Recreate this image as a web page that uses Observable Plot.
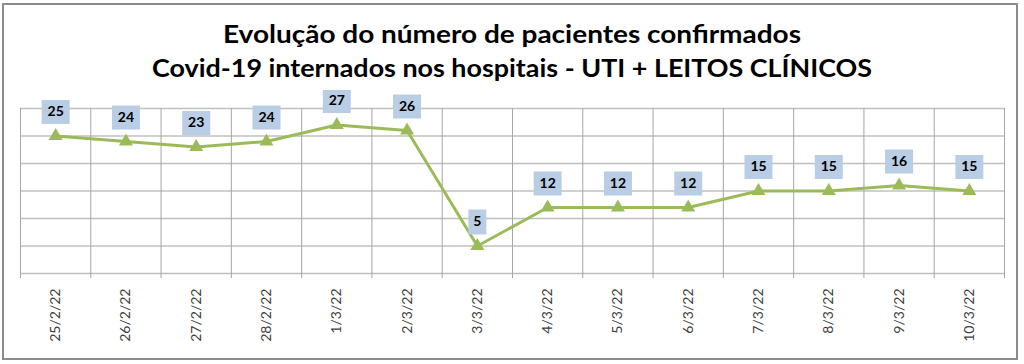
<!DOCTYPE html>
<html><head><meta charset="utf-8">
<script src="https://cdn.jsdelivr.net/npm/d3@7"></script>
<script src="https://cdn.jsdelivr.net/npm/@observablehq/plot@0.6"></script>
<style>
body{margin:0;background:#fff;}
#wrap{position:relative;width:1024px;height:364px;overflow:hidden;background:#fff;}
#border{position:absolute;left:2px;top:3px;width:1016px;height:357px;border:2px solid #8c8c8c;box-sizing:border-box;pointer-events:none;}
#title{position:absolute;left:0;top:0;}
#chart{position:absolute;left:0;top:90px;}
</style></head>
<body>
<div id="wrap">
  <svg id="title" width="1024" height="90" font-family="Lato, 'Open Sans', sans-serif" font-weight="bold" font-size="24" fill="#000">
    <text x="512" y="43" text-anchor="middle" textLength="578" lengthAdjust="spacingAndGlyphs">Evolução do número de pacientes confirmados</text>
    <text x="512" y="77" text-anchor="middle" textLength="720" lengthAdjust="spacingAndGlyphs">Covid-19 internados nos hospitais - UTI + LEITOS CLÍNICOS</text>
  </svg>
  <div id="chart"></div>
  <div id="border"></div>
</div>
<script>
const dates = ["25/2/22","26/2/22","27/2/22","28/2/22","1/3/22","2/3/22","3/3/22","4/3/22","5/3/22","6/3/22","7/3/22","8/3/22","9/3/22","10/3/22"];
const values = [25,24,23,24,27,26,5,12,12,12,15,15,16,15];
const yGrid = [0,5,10,15,20,25,30];

const data = dates.map((d,i)=>({i, date:d, value:values[i]}));
const bounds = d3.range(0, dates.length + 1).map(k => k - 0.5);
const box2 = {draw(ctx){ ctx.rect(-14,-12,28,24); }};
const box1 = {draw(ctx){ ctx.rect(-9,-12.5,18,25); }};

const chart = Plot.plot({
  width: 1024, height: 274,
  marginTop: 18, marginBottom: 91, marginLeft: 20, marginRight: 20,
  x: {domain: [-0.5, dates.length - 0.5], label: null},
  y: {domain: [0, 30], axis: null, label: null},
  style: {fontFamily: "Lato, 'Open Sans', sans-serif", background: "#fff"},
  marks: [
    Plot.ruleY(yGrid, {stroke: "#c0c0c0", strokeWidth: 1.6}),
    Plot.ruleX(bounds, {y1: 0, y2: 30, stroke: "#a6a6a6", strokeWidth: 1}),
    Plot.axisX(bounds, {tickSize: 5, tickFormat: () => "", stroke: "#a6a6a6", label: null}),
    Plot.axisX(data.map(d => d.i), {tickSize: 0, tickPadding: 15, tickRotate: -90, tickFormat: i => dates[i], fontSize: 14, fill: "#404040", label: null}),
    Plot.line(data, {x: "i", y: "value", stroke: "#9bbb59", strokeWidth: 3}),
    Plot.dot(data, {x: "i", y: "value", symbol: "triangle", r: 5.2, fill: "#9bbb59", stroke: null}),
    Plot.dot(data.filter(d => d.value >= 10), {x: "i", y: "value", symbol: box2, fill: "#b9cde5", stroke: null, dy: -24}),
    Plot.dot(data.filter(d => d.value < 10), {x: "i", y: "value", symbol: box1, fill: "#b9cde5", stroke: null, dy: -24}),
    Plot.text(data, {x: "i", y: "value", text: d => String(d.value), dy: -24, fontWeight: "bold", fontSize: 14, fill: "#000"})
  ]
});
document.getElementById("chart").appendChild(chart);
</script>
</body></html>
